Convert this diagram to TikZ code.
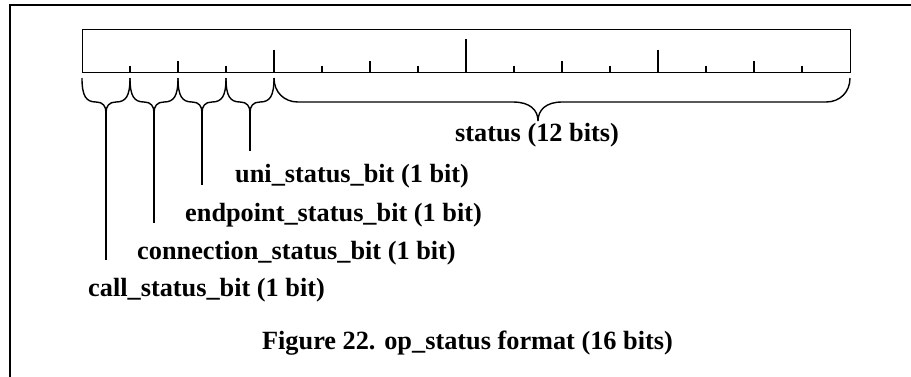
\documentclass[tikz,border=0pt]{standalone}
\usepackage{fontspec}
\setmainfont{Liberation Serif}
\begin{document}
\begin{tikzpicture}[x=1pt,y=-1pt,
  frameline/.style={line width=2.2pt, line cap=rect},
  boxline/.style={line width=1.4pt},
  tickline/.style={line width=1.3pt},
  braceline/.style={line width=1.4pt},
  lbl/.style={inner sep=0pt, anchor=base west, font=\fontsize{26.3}{30}\selectfont\bfseries}]
\useasboundingbox (0,0) rectangle (911,376);
% frame
\draw[frameline] (10.3,376) -- (10.3,5) -- (911,5);
% register box
\node[draw, boxline, minimum width=768pt, minimum height=43pt, inner sep=0pt, anchor=north west] (reg) at (82,29) {};
% ticks
\foreach \k in {1,...,15}{
  \pgfmathtruncatemacro{\m}{mod(\k,8)==0 ? 33 : (mod(\k,4)==0 ? 22 : (mod(\k,2)==0 ? 11 : 6))}
  \draw[tickline] (82+48*\k,72) -- ++(0,-\m);
}
% small braces
\foreach \i in {0,1,2,3}{
  \pgfmathsetmacro{\xl}{82+48*\i}
  \pgfmathsetmacro{\xm}{106+48*\i}
  \pgfmathsetmacro{\xr}{130+48*\i}
  \draw[braceline] (\xl,78) .. controls (\xl,96) and (\xl+4,102) .. (\xl+14,102)
     .. controls (\xm-3,102) and (\xm,106) .. (\xm,113)
     .. controls (\xm,106) and (\xm+3,102) .. (\xr-14,102)
     .. controls (\xr-4,102) and (\xr,96) .. (\xr,78);
  \coordinate (tip\i) at (\xm,112);
}
% big brace
\draw[braceline] (274,78) .. controls (274,92) and (284,102) .. (298,102) -- (513,102)
   .. controls (530,102) and (538,110) .. (538,121)
   .. controls (538,110) and (546,102) .. (562,102) -- (826,102)
   .. controls (840,102) and (850,92) .. (850,78);
% labels
\node[lbl] (status) at (455,141) {status (12 bits)};
\node[lbl] (uni) at (235,182) {uni\_status\_bit (1 bit)};
\node[lbl] (endp) at (185,221.7) {endpoint\_status\_bit (1 bit)};
\node[lbl] (conn) at (137,259) {connection\_status\_bit (1 bit)};
\node[lbl] (call) at (88,296.7) {call\_status\_bit (1 bit)};
\node[lbl, anchor=base] (cap) at (467.5,349) {Figure 22. op\_status format (16 bits)};
% leader lines
\coordinate (e0) at (106,260);
\coordinate (e1) at (154,222.7);
\coordinate (e2) at (202,185);
\coordinate (e3) at (250,150.7);
\foreach \i in {0,1,2,3}{
  \draw[braceline] (tip\i) -- (e\i);
}
\end{tikzpicture}
\end{document}
